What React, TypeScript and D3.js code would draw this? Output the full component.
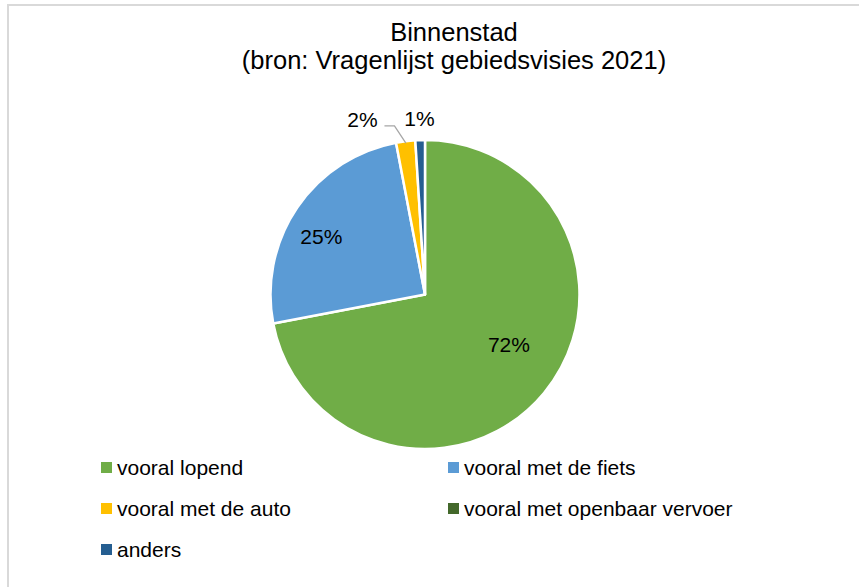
import React from "react";
import * as d3 from "d3";

const categories = [
  "vooral lopend",
  "vooral met de fiets",
  "vooral met de auto",
  "vooral met openbaar vervoer",
  "anders",
];
const values = [72, 25, 2, 0, 1];
const colors = ["#70AD47", "#5B9BD5", "#FFC000", "#43682B", "#255E91"];
const titleLines = ["Binnenstad", "(bron: Vragenlijst gebiedsvisies 2021)"];

const W = 859;
const H = 587;
const FONT = "'Liberation Sans', Arial, sans-serif";

// "best fit" placement tweaks for inside labels: [angle shift in degrees, radius fraction]
const insideLabelFit: Record<number, [number, number]> = {
  0: [-8.6, 0.634],
  1: [-4.8, 0.77],
};

export default function App() {
  const cx = 425;
  const cy = 294.5;
  const r = 154.5;

  const pie = d3
    .pie<number>()
    .sort(null)
    .value((d) => d)
    .startAngle(0)
    .endAngle(2 * Math.PI);
  const arcs = pie(values);
  const arc = d3.arc<d3.PieArcDatum<number>>().innerRadius(0).outerRadius(r);
  const outerLabelR = 176;

  const total = d3.sum(values);
  const pct = (v: number) => `${Math.round((v / total) * 100)}%`;

  const small = arcs
    .map((a, i) => ({ a, i }))
    .filter(({ a }) => a.data > 0 && a.data / total < 0.05);
  const outside = small.map(({ a, i }) => {
    const mid = (a.startAngle + a.endAngle) / 2;
    return {
      i,
      mid,
      x: Math.sin(mid) * outerLabelR,
      y: -Math.cos(mid) * outerLabelR,
      shifted: false,
    };
  });
  const minGap = 42;
  for (let k = outside.length - 2; k >= 0; k--) {
    const next = outside[k + 1];
    const cur = outside[k];
    if (next.x - cur.x < minGap + 15) {
      cur.x = next.x - minGap - 15;
      cur.shifted = true;
    }
  }

  const legendX = [101, 448];
  const legendY0 = 462;
  const legendDy = 41;

  return (
    <svg
      width={W}
      height={H}
      style={{ position: "absolute", left: 0, top: 0, background: "#fff" }}
      fontFamily={FONT}
    >
      <rect x={0} y={0} width={W} height={H} fill="#fff" />
      <rect
        x={8}
        y={5}
        width={W + 20}
        height={H + 20}
        fill="#fff"
        stroke="#D9D9D9"
        strokeWidth={2}
      />
      {titleLines.map((t, i) => (
        <text
          key={i}
          x={454}
          y={41 + i * 28}
          textAnchor="middle"
          fontSize={25.5}
          fill="#000"
        >
          {t}
        </text>
      ))}
      <g transform={`translate(${cx},${cy})`}>
        {arcs.map((a, i) =>
          a.data > 0 ? (
            <path
              key={i}
              d={arc(a) || ""}
              fill={colors[i]}
              stroke="#fff"
              strokeWidth={2.5}
              strokeLinejoin="round"
            />
          ) : null
        )}
        {arcs.map((a, i) => {
          if (!(a.data > 0) || a.data / total < 0.05) return null;
          const [dAng, frac] = insideLabelFit[i] || [0, 0.65];
          const ang = (a.startAngle + a.endAngle) / 2 + (dAng * Math.PI) / 180;
          const x = Math.sin(ang) * r * frac;
          const y = -Math.cos(ang) * r * frac;
          return (
            <text
              key={i}
              x={x}
              y={y}
              textAnchor="middle"
              dominantBaseline="central"
              fontSize={21}
              fill="#000"
            >
              {pct(a.data)}
            </text>
          );
        })}
        {outside.map((o) => {
          const a = arcs[o.i];
          const edge = d3
            .arc<d3.PieArcDatum<number>>()
            .innerRadius(r - 2)
            .outerRadius(r - 2)
            .centroid(a);
          return (
            <g key={o.i}>
              {o.shifted ? (
                <polyline
                  points={`${edge[0]},${edge[1]} ${o.x + 32},${o.y + 6} ${
                    o.x + 22
                  },${o.y + 6}`}
                  fill="none"
                  stroke="#A6A6A6"
                  strokeWidth={1.3}
                />
              ) : null}
              <text
                x={o.x}
                y={o.y}
                textAnchor="middle"
                dominantBaseline="central"
                fontSize={21}
                fill="#000"
              >
                {pct(a.data)}
              </text>
            </g>
          );
        })}
      </g>
      {categories.map((c, i) => {
        const col = i % 2;
        const row = Math.floor(i / 2);
        const x = legendX[col];
        const y = legendY0 + row * legendDy;
        return (
          <g key={c}>
            <rect x={x} y={y} width={11} height={11} fill={colors[i]} />
            <text x={x + 16} y={y + 13} fontSize={21} fill="#000">
              {c}
            </text>
          </g>
        );
      })}
    </svg>
  );
}
